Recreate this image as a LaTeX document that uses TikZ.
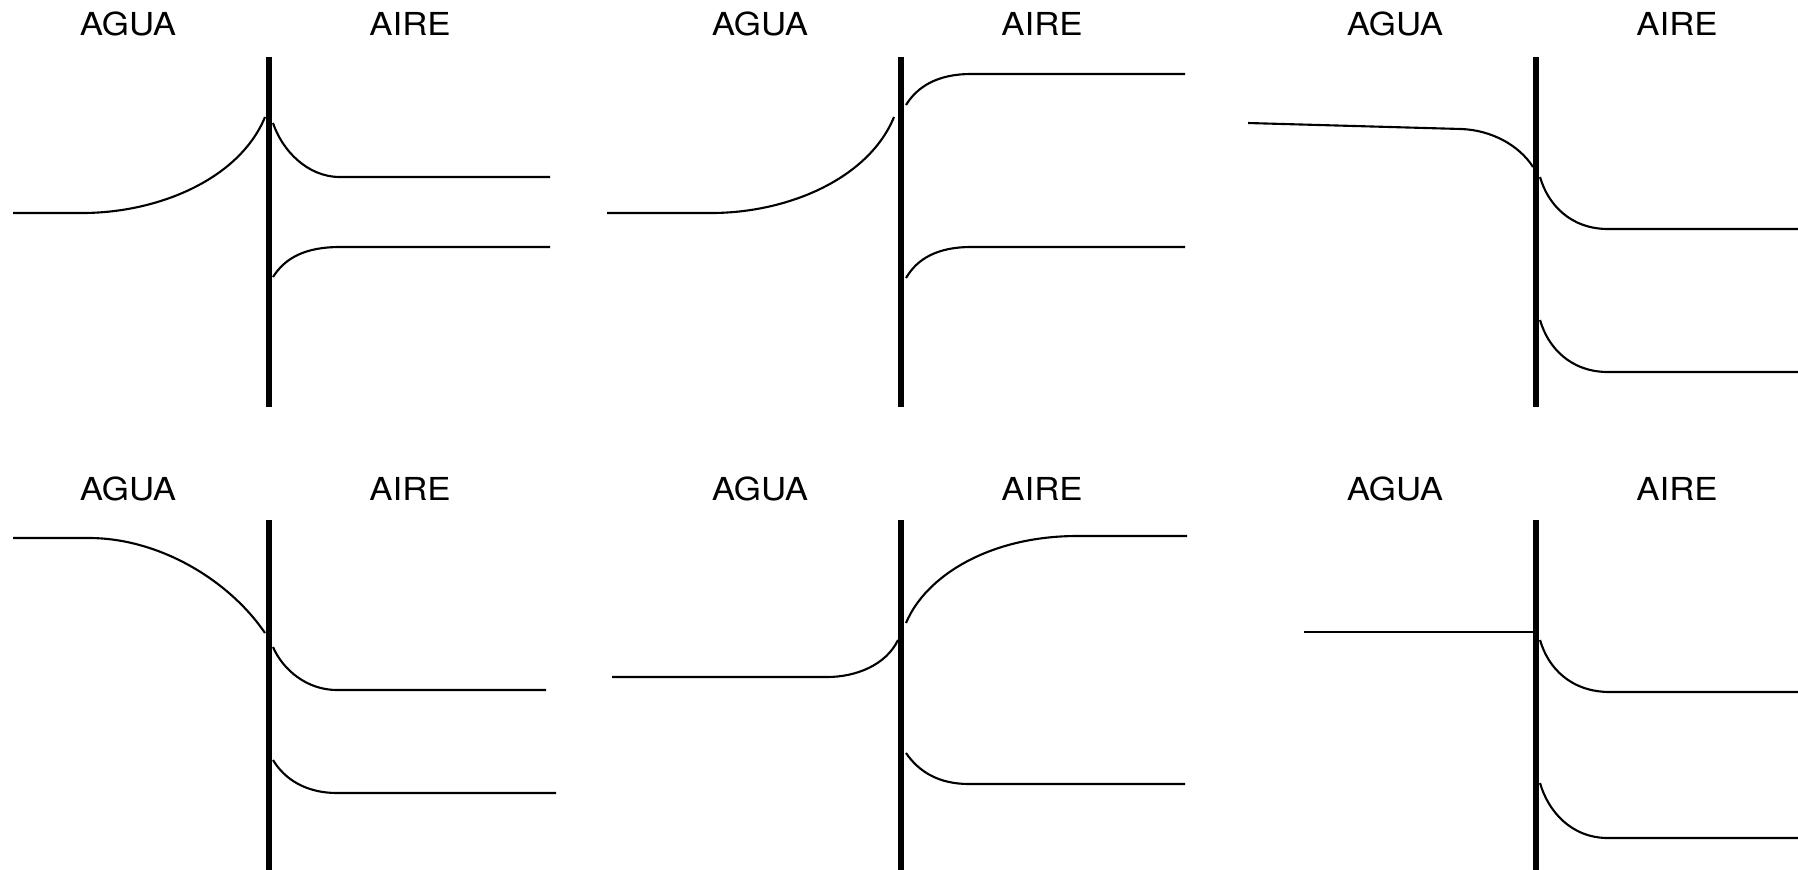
\documentclass[tikz,border=0pt]{standalone}
\usepackage{fontspec}
\setmainfont{TeX Gyre Heros}
\begin{document}
\begin{tikzpicture}[x=0.01cm,y=-0.01cm,
  wall/.style={line width=1.7pt},
  prof/.style={line width=0.6pt},
  lbl/.style={font=\fontsize{9}{10}\selectfont,inner sep=0pt,xscale=1.1}]
  \useasboundingbox (0,0) rectangle (1798,869);
  % top left
  \begin{scope}[shift={(269,57)}]
    \node[lbl] (agua1) at (-141,-33) {AGUA};
    \node[lbl] (aire1) at (141,-33) {AIRE};
    \draw[prof] (-256,156) -- (-187,156) .. controls (-109,156) and (-29,121) .. (-4,60);
    \draw[prof] (4,66) .. controls (13,93) and (38,120) .. (71,120) -- (281,120);
    \draw[prof] (4,220) .. controls (16,201) and (36,190) .. (71,190) -- (281,190);
    \draw[wall] (0,0) -- (0,350);
  \end{scope}
  % top middle
  \begin{scope}[shift={(901,57)}]
    \node[lbl] (agua2) at (-141,-33) {AGUA};
    \node[lbl] (aire2) at (141,-33) {AIRE};
    \draw[prof] (-294,156) -- (-190,156) .. controls (-112,156) and (-32,121) .. (-7,60);
    \draw[prof] (5,48) .. controls (16,30) and (36,17) .. (70,17) -- (284,17);
    \draw[prof] (5,221) .. controls (16,202) and (36,190) .. (70,190) -- (284,190);
    \draw[wall] (0,0) -- (0,350);
  \end{scope}
  % top right
  \begin{scope}[shift={(1536,57)}]
    \node[lbl] (agua3) at (-141,-33) {AGUA};
    \node[lbl] (aire3) at (141,-33) {AIRE};
    \draw[prof] (-288,66) -- (-75,72) .. controls (-45,73) and (-17,88) .. (-3,110);
    \draw[prof] (4,120) .. controls (12,148) and (35,172) .. (72,172) -- (262,172);
    \draw[prof] (4,263) .. controls (12,291) and (35,315) .. (72,315) -- (262,315);
    \draw[wall] (0,0) -- (0,350);
  \end{scope}
  % bottom left
  \begin{scope}[shift={(269,520)}]
    \node[lbl] (agua4) at (-141,-31) {AGUA};
    \node[lbl] (aire4) at (141,-31) {AIRE};
    \draw[prof] (-256,18) -- (-180,18) .. controls (-110,18) and (-40,60) .. (-4,113);
    \draw[prof] (4,127) .. controls (14,150) and (38,170) .. (68,170) -- (277,170);
    \draw[prof] (4,240) .. controls (16,260) and (38,273) .. (68,273) -- (287,273);
    \draw[wall] (0,0) -- (0,350);
  \end{scope}
  % bottom middle
  \begin{scope}[shift={(901,520)}]
    \node[lbl] (agua5) at (-141,-31) {AGUA};
    \node[lbl] (aire5) at (141,-31) {AIRE};
    \draw[prof] (-289,157) -- (-74,157) .. controls (-45,157) and (-15,145) .. (-3,120);
    \draw[prof] (5,103) .. controls (25,55) and (90,16) .. (176,16) -- (286,16);
    \draw[prof] (5,233) .. controls (18,252) and (38,264) .. (68,264) -- (284,264);
    \draw[wall] (0,0) -- (0,350);
  \end{scope}
  % bottom right
  \begin{scope}[shift={(1536,520)}]
    \node[lbl] (agua6) at (-141,-31) {AGUA};
    \node[lbl] (aire6) at (141,-31) {AIRE};
    \draw[prof] (-232,112) -- (0,112);
    \draw[prof] (4,120) .. controls (12,148) and (35,172) .. (74,172) -- (262,172);
    \draw[prof] (4,263) .. controls (12,291) and (35,318) .. (72,318) -- (262,318);
    \draw[wall] (0,0) -- (0,350);
  \end{scope}
\end{tikzpicture}
\end{document}
